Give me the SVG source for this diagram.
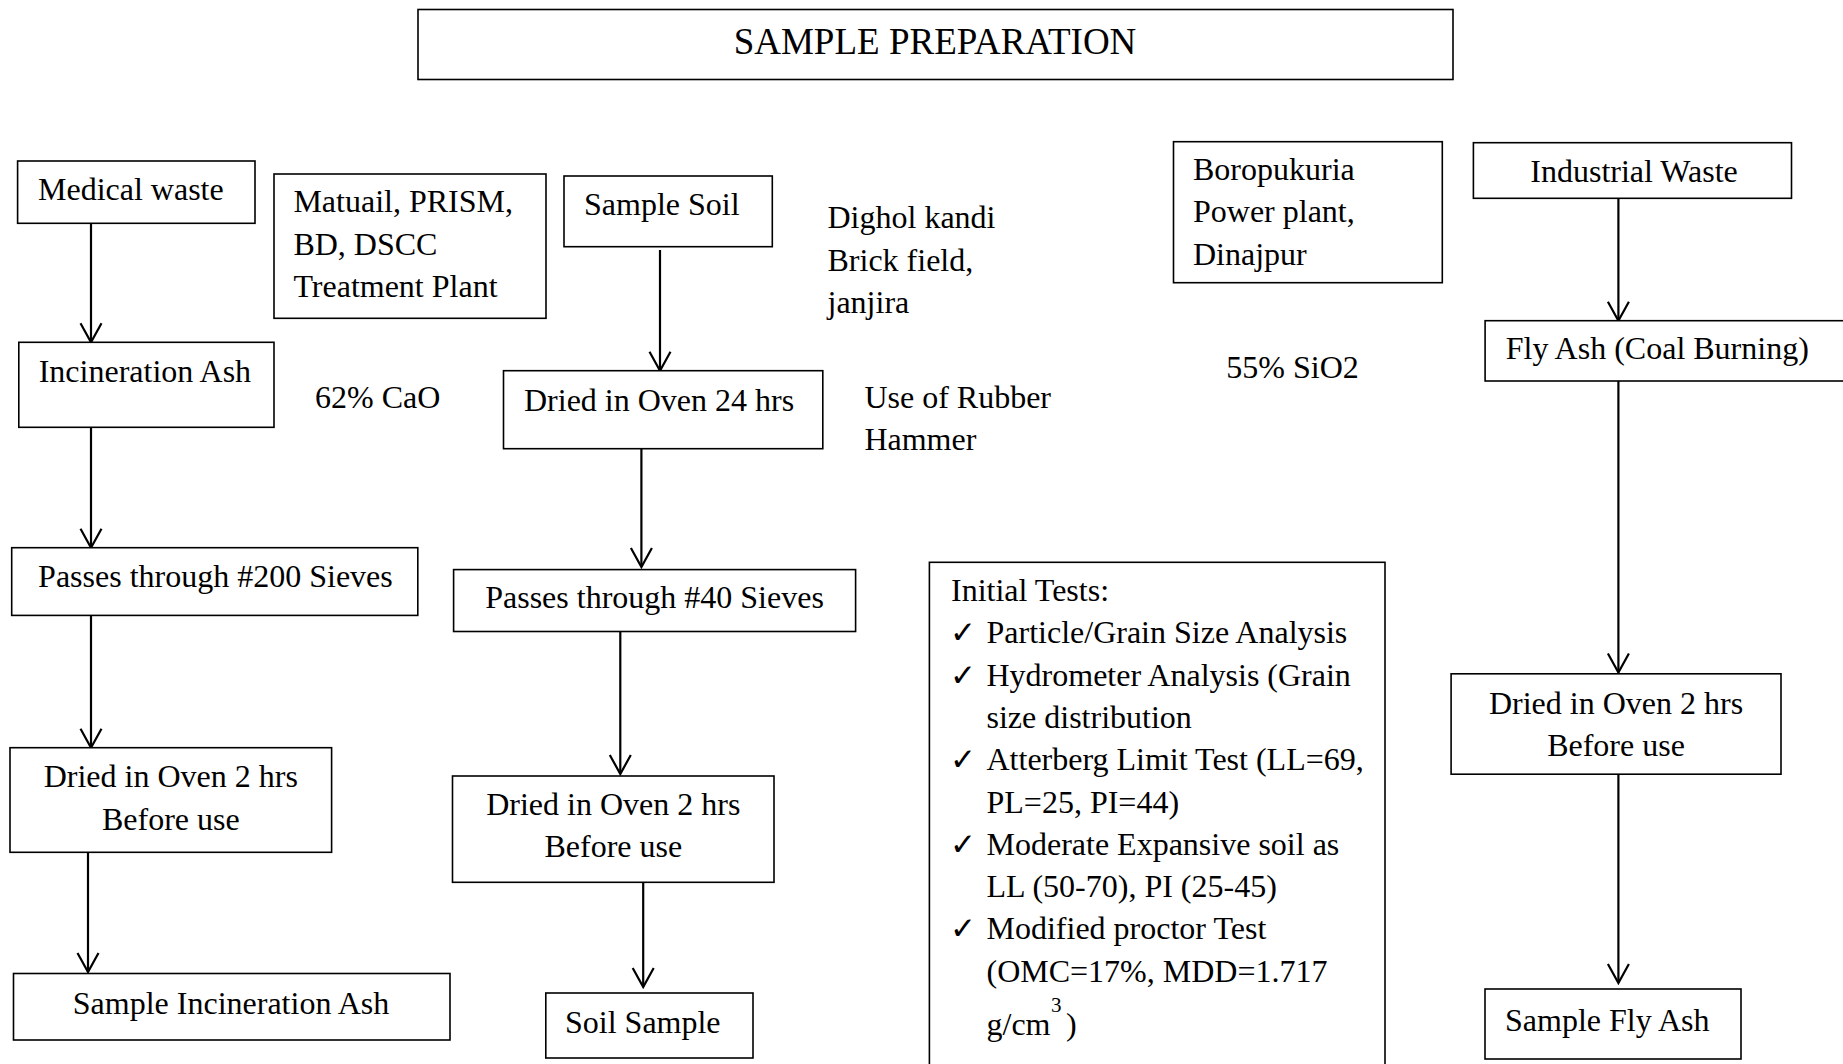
<svg xmlns="http://www.w3.org/2000/svg" width="1843" height="1064" viewBox="0 0 1843 1064">
<defs>
<style>
.box{fill:#fff;stroke:#000;stroke-width:1.6}
.t{font-family:"Liberation Serif","Times New Roman",serif;font-size:32px;fill:#000}
.c{text-anchor:middle}
.ttl{font-size:37px}
.ck{font-family:"DejaVu Sans",sans-serif;font-size:31px;fill:#000}
.sup{font-size:21px}
.ln{fill:none;stroke:#000;stroke-width:2.2;marker-end:url(#arr)}
</style>
<marker id="arr" viewBox="-20 -12 22 24" refX="0" refY="0" markerWidth="22" markerHeight="24" markerUnits="userSpaceOnUse" orient="auto">
<path d="M-19,-10.5 L0,0 L-19,10.5" fill="none" stroke="#000" stroke-width="2.2"/>
</marker>
</defs>
<rect width="1843" height="1064" fill="#fff"/>

<g id="title">
<rect class="box" x="418" y="9.5" width="1035" height="70"/>
<text class="t ttl c" x="935" y="53.5">SAMPLE PREPARATION</text>
</g>

<g id="connectors">
<line class="ln" x1="91" y1="223.3" x2="91" y2="342.3"/>
<line class="ln" x1="91" y1="427.3" x2="91" y2="547.7"/>
<line class="ln" x1="91" y1="615.4" x2="91" y2="747.7"/>
<line class="ln" x1="88" y1="852.3" x2="88" y2="972"/>
<line class="ln" x1="660" y1="250" x2="660" y2="370.7"/>
<line class="ln" x1="641.4" y1="448.7" x2="641.4" y2="567"/>
<line class="ln" x1="620.3" y1="631.5" x2="620.3" y2="774"/>
<line class="ln" x1="643.2" y1="882.3" x2="643.2" y2="987"/>
<line class="ln" x1="1618.4" y1="198.3" x2="1618.4" y2="320.7"/>
<line class="ln" x1="1618.4" y1="381" x2="1618.4" y2="672.5"/>
<line class="ln" x1="1618.4" y1="774.2" x2="1618.4" y2="983"/>
</g>

<g id="medical-waste">
<rect class="box" x="17.6" y="161" width="237.4" height="62.3"/>
<text class="t" x="38" y="200">Medical waste</text>
</g>

<g id="matuail">
<rect class="box" x="274" y="174" width="272" height="144.3"/>
<text class="t" x="293.4" y="212.3">Matuail, PRISM,</text>
<text class="t" x="293.4" y="254.6">BD, DSCC</text>
<text class="t" x="293.4" y="296.9">Treatment Plant</text>
</g>

<g id="sample-soil">
<rect class="box" x="564" y="176" width="208.3" height="70.7"/>
<text class="t" x="584" y="215">Sample Soil</text>
</g>

<g id="dighol">
<text class="t" x="827.5" y="228.3">Dighol kandi</text>
<text class="t" x="827.5" y="270.6">Brick field,</text>
<text class="t" x="827.5" y="312.9">janjira</text>
</g>

<g id="incineration-ash">
<rect class="box" x="18.8" y="342.3" width="255.2" height="85"/>
<text class="t" x="38.7" y="381.7">Incineration Ash</text>
</g>

<g id="cao">
<text class="t" x="315" y="407.5">62% CaO</text>
</g>

<g id="dried-24">
<rect class="box" x="503.5" y="370.7" width="319.3" height="78"/>
<text class="t" x="524" y="410.5">Dried in Oven 24 hrs</text>
</g>

<g id="rubber">
<text class="t" x="864.4" y="407.5">Use of Rubber</text>
<text class="t" x="864.4" y="449.5">Hammer</text>
</g>

<g id="boropukuria">
<rect class="box" x="1173.5" y="141.7" width="268.8" height="141"/>
<text class="t" x="1193" y="180">Boropukuria</text>
<text class="t" x="1193" y="222.3">Power plant,</text>
<text class="t" x="1193" y="264.6">Dinajpur</text>
</g>

<g id="industrial-waste">
<rect class="box" x="1473.4" y="142.7" width="318.1" height="55.6"/>
<text class="t c" x="1634" y="181.7">Industrial Waste</text>
</g>

<g id="fly-ash">
<rect class="box" x="1485.1" y="320.7" width="400" height="60.3"/>
<text class="t" x="1505.7" y="359">Fly Ash (Coal Burning)</text>
</g>

<g id="sio2">
<text class="t" x="1226.3" y="378">55% SiO2</text>
</g>

<g id="passes-200">
<rect class="box" x="11.7" y="547.7" width="406.1" height="67.7"/>
<text class="t" x="38.1" y="587.3">Passes through #200 Sieves</text>
</g>

<g id="passes-40">
<rect class="box" x="453.6" y="569.6" width="402" height="61.9"/>
<text class="t c" x="654.5" y="608">Passes through #40 Sieves</text>
</g>

<g id="dried-left">
<rect class="box" x="10" y="747.7" width="321.6" height="104.6"/>
<text class="t c" x="170.8" y="787.3">Dried in Oven 2 hrs</text>
<text class="t c" x="170.8" y="829.5">Before use</text>
</g>

<g id="dried-mid">
<rect class="box" x="452.5" y="776" width="321.5" height="106.3"/>
<text class="t c" x="613.3" y="815">Dried in Oven 2 hrs</text>
<text class="t c" x="613.3" y="857.3">Before use</text>
</g>

<g id="sample-incineration-ash">
<rect class="box" x="13.5" y="973.5" width="436.5" height="66.5"/>
<text class="t c" x="231" y="1014">Sample Incineration Ash</text>
</g>

<g id="soil-sample">
<rect class="box" x="545.8" y="993" width="207.2" height="65"/>
<text class="t" x="565" y="1032.5">Soil Sample</text>
</g>

<g id="initial-tests">
<rect class="box" x="929.4" y="562.3" width="455.6" height="520"/>
<text class="t" x="951" y="601">Initial Tests:</text>
<text class="ck" x="950" y="643.3">✓</text>
<text class="t" x="986.5" y="643.3">Particle/Grain Size Analysis</text>
<text class="ck" x="950" y="685.6">✓</text>
<text class="t" x="986.5" y="685.6">Hydrometer Analysis (Grain</text>
<text class="t" x="986.5" y="727.9">size distribution</text>
<text class="ck" x="950" y="770.2">✓</text>
<text class="t" x="986.5" y="770.2">Atterberg Limit Test (LL=69,</text>
<text class="t" x="986.5" y="812.5">PL=25, PI=44)</text>
<text class="ck" x="950" y="854.8">✓</text>
<text class="t" x="986.5" y="854.8">Moderate Expansive soil as</text>
<text class="t" x="986.5" y="897.1">LL (50-70), PI (25-45)</text>
<text class="ck" x="950" y="939.4">✓</text>
<text class="t" x="986.5" y="939.4">Modified proctor Test</text>
<text class="t" x="986.5" y="981.7">(OMC=17%, MDD=1.717</text>
<text class="t" x="986.5" y="1035">g/cm</text>
<text class="t sup" x="1051" y="1012">3</text>
<text class="t" x="1066" y="1035">)</text>
</g>

<g id="dried-right">
<rect class="box" x="1451.1" y="673.8" width="329.9" height="100.4"/>
<text class="t c" x="1616" y="713.5">Dried in Oven 2 hrs</text>
<text class="t c" x="1616" y="755.8">Before use</text>
</g>

<g id="sample-fly-ash">
<rect class="box" x="1485" y="989" width="256" height="70"/>
<text class="t" x="1505" y="1030.5">Sample Fly Ash</text>
</g>
</svg>
